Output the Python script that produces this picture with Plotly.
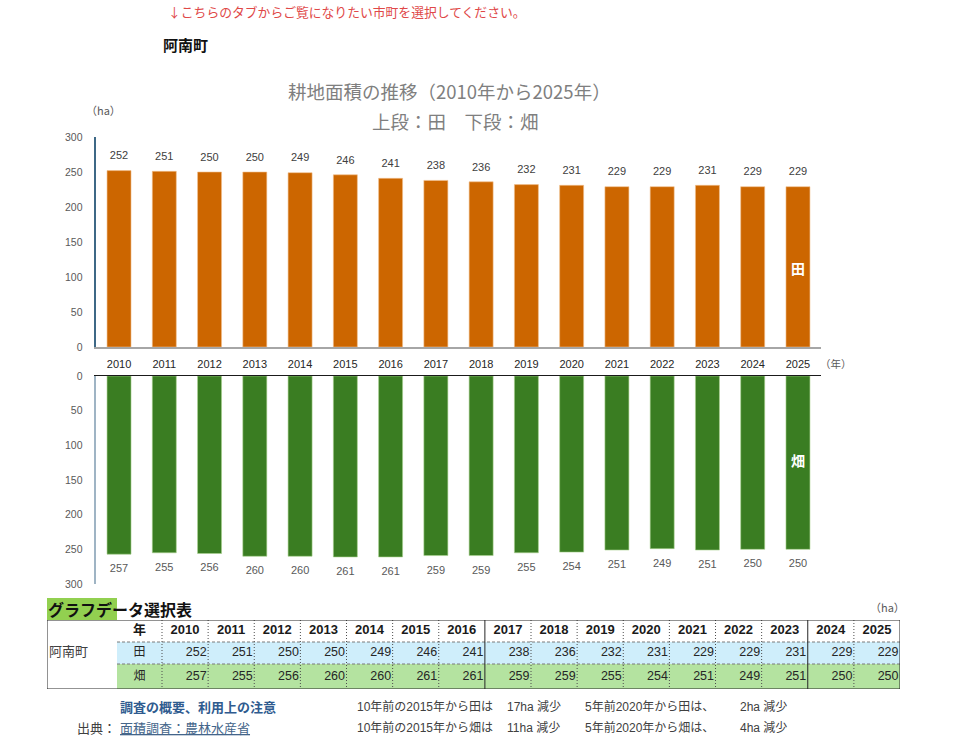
import plotly.graph_objects as go

years = [str(y) for y in range(2010, 2026)]
paddy = [252, 251, 250, 250, 249, 246, 241, 238, 236, 232, 231, 229, 229, 231, 229, 229]
field = [257, 255, 256, 260, 260, 261, 261, 259, 259, 255, 254, 251, 249, 251, 250, 250]
y_ticks = [0, 50, 100, 150, 200, 250, 300]
town = "阿南町"
row_names = ["田", "畑"]

W, H = 960, 739
def px(x):
    return x / W
def py(y):
    return 1 - y / H

FONT = "Liberation Sans, Noto Sans CJK JP, sans-serif"
JP = "Noto Sans CJK JP, sans-serif"
NARROW = "Liberation Sans Narrow, Liberation Sans, Noto Sans CJK JP, sans-serif"
ORANGE = "#cc6600"
GREEN = "#3a7d22"
BLUE_FILL = "#cfeefb"
GREEN_FILL = "#b4e3a0"

fig = go.Figure()
xi = list(range(len(years)))

# ---- upper chart (paddy)
fig.add_trace(go.Bar(
    x=xi, y=paddy, xaxis="x", yaxis="y", width=0.53,
    marker=dict(color=ORANGE, line=dict(color="#f2c18e", width=0.6)),
    showlegend=False, hoverinfo="y"))
fig.add_trace(go.Scatter(
    x=xi, y=paddy, xaxis="x", yaxis="y", mode="markers+text",
    marker=dict(size=12, color="rgba(0,0,0,0)"),
    text=[str(v) for v in paddy], textposition="top center", cliponaxis=False,
    textfont=dict(size=11, color="#404040", family=FONT), showlegend=False, hoverinfo="skip"))

# ---- lower chart (field)
fig.add_trace(go.Bar(
    x=xi, y=field, xaxis="x2", yaxis="y2", width=0.53,
    marker=dict(color=GREEN, line=dict(color="#a9d18e", width=0.6)),
    showlegend=False, hoverinfo="y"))
fig.add_trace(go.Scatter(
    x=xi, y=field, xaxis="x2", yaxis="y2", mode="markers+text",
    marker=dict(size=14, color="rgba(0,0,0,0)"),
    text=[str(v) for v in field], textposition="bottom center", cliponaxis=False,
    textfont=dict(size=11, color="#595959", family=FONT), showlegend=False, hoverinfo="skip"))

# ---- data table (drawn on its own axes, pixel-like units)
col_widths = [70, 45] + [46.125] * len(years)
col_edges = [47.0]
for w in col_widths:
    col_edges.append(col_edges[-1] + w)
row_edges = [620, 642, 664, 689]
row_mid = [(row_edges[i] + row_edges[i + 1]) / 2 for i in range(3)]
ncol = len(col_widths)
z = [[0] * ncol,
     [0] + [1] * (ncol - 1),
     [0] + [2] * (ncol - 1)]
fig.add_trace(go.Heatmap(
    x=col_edges, y=row_edges, z=z, xaxis="x3", yaxis="y3", zmin=0, zmax=2,
    colorscale=[[0, "white"], [0.5, BLUE_FILL], [1, GREEN_FILL]],
    showscale=False, hoverinfo="skip"))

col_mid = [(col_edges[i] + col_edges[i + 1]) / 2 for i in range(ncol)]
fig.add_trace(go.Scatter(
    x=col_mid[1:], y=[row_mid[0]] * (ncol - 1), xaxis="x3", yaxis="y3", mode="text",
    text=["<b>年</b>"] + ["<b>%s</b>" % y for y in years], textposition="middle center",
    textfont=dict(size=13, color="#1a1a1a", family=NARROW), showlegend=False, hoverinfo="skip",
    cliponaxis=False))
fig.add_trace(go.Scatter(
    x=[col_mid[1]] * 2, y=row_mid[1:], xaxis="x3", yaxis="y3", mode="text",
    text=row_names, textposition="middle center",
    textfont=dict(size=12, color="#262626", family=JP), showlegend=False, hoverinfo="skip"))
for r, vals in ((1, paddy), (2, field)):
    fig.add_trace(go.Scatter(
        x=[col_edges[i + 3] - 1.5 for i in range(len(years))], y=[row_mid[r]] * len(years),
        xaxis="x3", yaxis="y3", mode="text", text=[str(v) for v in vals],
        textposition="middle left", textfont=dict(size=12.5, color="#262626", family=NARROW),
        showlegend=False, hoverinfo="skip", cliponaxis=False))
fig.add_trace(go.Scatter(
    x=[col_edges[0] + 2], y=[row_mid[1]], xaxis="x3", yaxis="y3", mode="text",
    text=[town], textposition="middle right",
    textfont=dict(size=13, color="#404040", family=JP), showlegend=False, hoverinfo="skip",
    cliponaxis=False))

shapes = []
for ry in row_edges[1:3]:
    shapes.append(dict(type="line", xref="x3", yref="y3", x0=col_edges[1], x1=col_edges[-1],
                       y0=ry, y1=ry, line=dict(color="#7a7a7a", width=1, dash="3px,2px")))
solid_after = [years.index("2016"), years.index("2023")]
for i in range(2, ncol):
    yi = i - 2
    solid = (yi - 1) in solid_after
    shapes.append(dict(type="line", xref="x3", yref="y3", x0=col_edges[i], x1=col_edges[i],
                       y0=row_edges[0], y1=row_edges[-1],
                       line=dict(color="#262626" if solid else "#4d4d4d", width=1,
                                 dash="solid" if solid else "1px,2px")))
shapes.append(dict(type="rect", xref="x3", yref="y3", x0=col_edges[0], x1=col_edges[-1],
                   y0=row_edges[0], y1=row_edges[-1], line=dict(color="#262626", width=1)))
shapes.append(dict(type="rect", xref="paper", yref="paper", x0=px(47), x1=px(117), y0=py(620),
                   y1=py(598), fillcolor="#92d050", line=dict(width=0), layer="below"))

anns = []
def T(x, y, s, size=11, color="#595959", xanchor="left", family=JP):
    anns.append(dict(x=px(x), y=py(y), xref="paper", yref="paper", text=s, showarrow=False,
                     xanchor=xanchor, yanchor="middle", font=dict(size=size, color=color, family=family)))

T(166, 12, "↓こちらのタブからご覧になりたい市町を選択してください。", size=12.8, color="#e04848")
T(161, 45, "<b>%s</b>" % town, size=15, color="#111111")
T(449, 91, "耕地面積の推移（2010年から2025年）", size=18.5, color="#7f7f7f", xanchor="center")
T(455, 121, "上段：田　下段：畑", size=18.5, color="#7f7f7f", xanchor="center")
T(84, 110, "（ha）", size=11, color="#595959")
T(818, 364, "（年）", size=10.5, color="#595959")
T(46, 609, "<b>グラフデータ選択表</b>", size=16, color="#111111")
T(868, 607, "（ha）", size=11, color="#595959")

anns.append(dict(x=len(years) - 1, y=113, xref="x", yref="y", text="<b>田</b>", showarrow=False,
                 font=dict(size=14, color="white", family=JP)))
anns.append(dict(x=len(years) - 1, y=121, xref="x2", yref="y2", text="<b>畑</b>", showarrow=False,
                 font=dict(size=14, color="white", family=JP)))

i2015, i2020 = years.index("2015"), years.index("2020")
d10p = paddy[i2015] - paddy[-1]
d5p = paddy[i2020] - paddy[-1]
d10f = field[i2015] - field[-1]
d5f = field[i2020] - field[-1]
T(118, 706, "<b>調査の概要、利用上の注意</b>", size=13, color="#2f5b8f")
T(75, 727, "出典：", size=13, color="#404040")
T(118, 727, "<u>面積調査：農林水産省</u>", size=13, color="#44658a")
note_c = "#404040"
NS = 12
T(355, 706, "10年前の2015年から田は", size=NS, color=note_c, family=NARROW)
T(505, 706, "%dha 減少" % d10p, size=NS, color=note_c, family=NARROW)
T(583, 706, "5年前2020年から田は、", size=NS, color=note_c, family=NARROW)
T(738, 706, "%dha 減少" % d5p, size=NS, color=note_c, family=NARROW)
T(355, 727, "10年前の2015年から畑は", size=NS, color=note_c, family=NARROW)
T(505, 727, "%dha 減少" % d10f, size=NS, color=note_c, family=NARROW)
T(583, 727, "5年前2020年から畑は、", size=NS, color=note_c, family=NARROW)
T(738, 727, "%dha 減少" % d5f, size=NS, color=note_c, family=NARROW)

xd = [px(96.4), px(820.6)]
fig.update_layout(
    width=W, height=H, margin=dict(l=0, r=0, t=0, b=0, pad=0, autoexpand=False),
    paper_bgcolor="white", plot_bgcolor="white",
    font=dict(family=FONT),
    xaxis=dict(domain=xd, range=[-0.5, len(years) - 0.5], tickvals=xi, ticktext=years,
               showline=True, linecolor="#a6a6a6", linewidth=1.5, showgrid=False, ticks="",
               zeroline=False, tickfont=dict(size=11, color="#262626"), ticklabelstandoff=6,
               anchor="y", automargin=False),
    yaxis=dict(domain=[py(347), py(137)], range=[0, 300], tickvals=y_ticks,
               showline=True, linecolor="#3d6886", linewidth=1.5, showgrid=False,
               zeroline=False, tickfont=dict(size=10.5, color="#595959"),
               ticklabelstandoff=10, anchor="x", automargin=False),
    xaxis2=dict(domain=xd, range=[-0.5, len(years) - 0.5], side="top", showline=True,
                linecolor="#1a1a1a", linewidth=1, showgrid=False, showticklabels=False,
                zeroline=False, ticks="", anchor="y2", automargin=False),
    yaxis2=dict(domain=[py(584), py(376)], range=[300, 0], tickvals=y_ticks,
                showline=True, linecolor="#9fb4c4", linewidth=1.5, showgrid=False,
                zeroline=False, tickfont=dict(size=10.5, color="#595959"),
                ticklabelstandoff=10, anchor="x2", automargin=False),
    xaxis3=dict(domain=[px(47), px(900)], range=[47, 900], visible=False, anchor="y3",
                automargin=False),
    yaxis3=dict(domain=[py(689), py(620)], range=[689, 620], visible=False, anchor="x3",
                automargin=False),
    annotations=anns, shapes=shapes,
)

fig.write_html("out.html")
